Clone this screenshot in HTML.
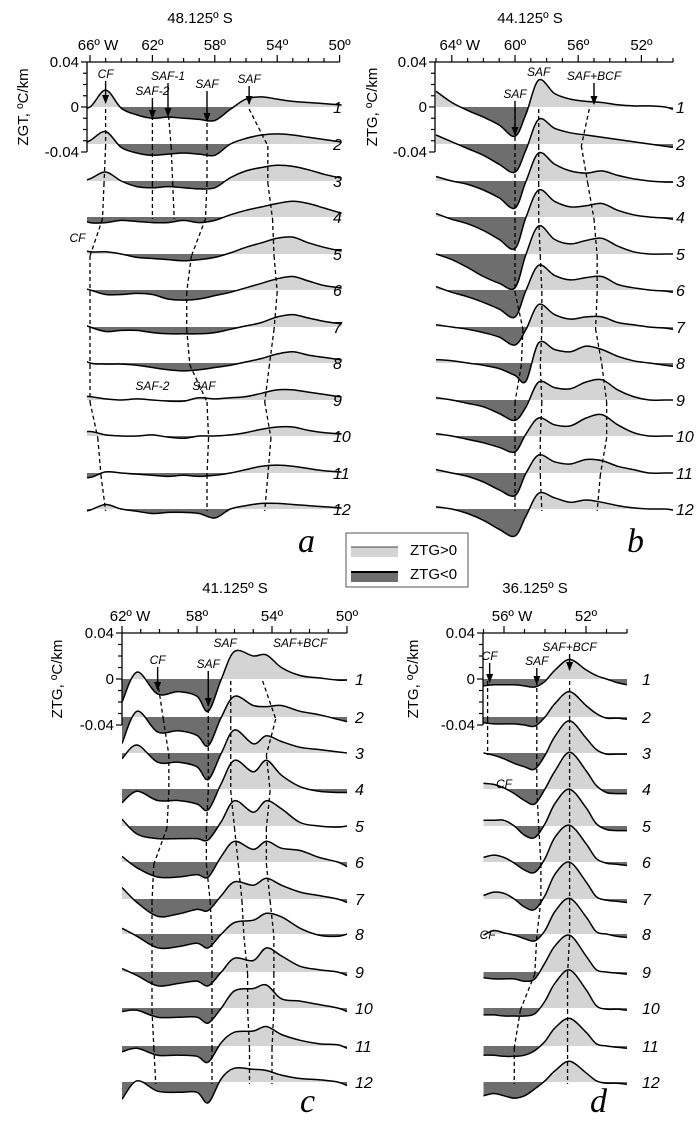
<!DOCTYPE html>
<html><head><meta charset="utf-8">
<style>
html,body{margin:0;padding:0;background:#fff;}
svg{display:block;font-family:"Liberation Sans",sans-serif;}
.it{font-style:italic;}
</style></head>
<body>
<svg id="fig" width="698" height="1129" viewBox="0 0 698 1129" xmlns="http://www.w3.org/2000/svg">
<defs>
<marker id="arr" markerWidth="9" markerHeight="7" refX="8" refY="3.5" orient="auto" markerUnits="userSpaceOnUse"><path d="M0,0 L9,3.5 L0,7 Z" fill="#000"/></marker>
</defs>
<g id="layer"></g>
<g>
<rect x="346" y="533" width="122" height="54" fill="#fff" stroke="#555" stroke-width="1"/>
<rect x="351" y="547" width="47" height="10" fill="#d4d4d4"/>
<line x1="351" y1="547" x2="398" y2="547" stroke="#444" stroke-width="1"/>
<text x="410" y="555" font-size="15">ZTG&gt;0</text>
<rect x="351" y="572" width="47" height="10" fill="#6e6e6e"/>
<line x1="351" y1="572" x2="398" y2="572" stroke="#000" stroke-width="2"/>
<text x="410" y="579" font-size="15">ZTG&lt;0</text>
</g>
</svg>
<script>
// ---------- Panel a data (48.125 S) ----------
const aLons = [67,66,65,64,63,62,61,60,59,58,57,56,55,54,53,52,51,50,49];
const aProfiles = [
[-0.2,0.0,1.5,-0.1,-0.7,-1.0,-0.9,-1.0,-1.1,-1.2,-0.2,0.7,0.9,0.7,0.5,0.4,0.3,0.2,0.1],
[-0.3,0.3,1.1,-0.3,-0.8,-1.0,-0.9,-0.8,-0.9,-1.0,0.0,0.5,0.8,0.9,0.8,0.6,0.4,0.2,0.0],
[-0.2,0.2,0.8,0.0,-0.5,-0.6,-0.5,-0.6,-0.7,-0.6,0.3,0.9,1.2,1.4,1.3,1.0,0.6,0.3,0.1],
[0.0,-0.5,-0.5,-0.3,-0.4,-0.5,-0.5,-0.3,-0.5,-0.3,0.2,0.6,0.9,1.2,1.4,1.2,0.8,0.4,0.2],
[0.6,0.2,0.2,0.0,-0.3,-0.4,-0.5,-0.6,-0.5,-0.3,0.1,0.6,1.0,1.4,1.5,1.0,0.6,0.3,0.1],
[0.3,0.0,-0.4,-0.4,-0.3,-0.4,-0.8,-0.9,-0.8,-0.5,-0.2,0.2,0.6,1.0,1.2,0.8,0.4,0.2,0.0],
[0.6,0.0,-0.4,-0.3,-0.3,-0.5,-0.6,-0.6,-0.6,-0.5,-0.2,0.1,0.4,0.9,1.1,0.8,0.5,0.3,0.1],
[0.7,0.0,-0.1,-0.1,-0.2,-0.4,-0.6,-0.7,-0.6,-0.4,-0.2,0.1,0.4,0.8,1.0,0.7,0.5,0.3,0.1],
[0.4,0.3,0.1,0.0,0.1,0.0,-0.1,-0.1,0.2,0.1,0.2,0.3,0.6,0.9,0.9,0.7,0.5,0.3,0.2],
[0.2,0.4,0.1,0.0,0.0,0.1,-0.1,-0.2,0.0,0.0,0.1,0.3,0.6,0.8,0.8,0.5,0.3,0.2,0.1],
[-0.3,-0.4,0.1,0.0,-0.1,-0.2,-0.3,-0.2,-0.3,-0.2,0.0,0.3,0.6,0.7,0.6,0.4,0.2,0.1,0.0],
[-0.4,-0.1,0.4,0.0,-0.2,-0.4,-0.3,-0.3,-0.4,-0.8,0.0,0.3,0.5,0.5,0.4,0.3,0.2,0.1,0.0]
];
const aTicks = ["66º W","62º","58º","54º","50º"];
const aTickLons = [66,62,58,54,50];
const aFronts = [[65,65,65.1,65.2,66,66,66,66,66,65.5,65.3,65],[62,62,62,62],[61,60.8,60.7,60.6],[58.5,58.5,58.5,58.6,59.5,59.8,59.8,59.6,58.5,58.4,58.5,58.5],[55.8,54.6,54.6,54.3,54.2,54.0,54.2,54.5,54.8,54.4,54.6,54.8]];
// ---------- Panel b data (44.125 S) ----------
const bLons = [65,64,63,62,61,60,59.3,58.5,57.5,56.5,55.5,54.5,53.5,52.5,51.5,50.5,50];
const bProfiles = [
[1.4,0.4,-0.3,-0.9,-1.6,-2.6,-0.6,2.4,1.2,0.7,0.5,0.4,0.2,0.1,0.1,0.0,-0.2],
[0.8,0.2,-0.4,-1.0,-1.8,-2.5,-0.5,2.2,1.4,1.0,0.8,0.6,0.4,0.2,0.0,-0.2,-0.3],
[0.4,0.0,-0.3,-0.8,-1.5,-2.4,0.0,2.5,1.5,0.9,0.7,0.9,0.5,0.2,0.0,-0.1,-0.1],
[0.3,-0.2,-0.6,-1.2,-2.0,-2.8,0.0,2.4,1.4,0.9,1.0,1.2,0.6,0.2,0.0,-0.1,-0.2],
[0.0,-0.5,-1.2,-2.0,-2.6,-3.0,0.0,2.5,1.3,0.9,1.2,1.4,0.7,0.2,0.0,0.0,0.0],
[0.3,-0.2,-0.6,-1.1,-1.7,-2.4,0.0,2.2,1.3,0.9,1.1,1.2,0.5,0.2,0.0,-0.1,-0.2],
[0.2,0.0,-0.2,-0.5,-0.9,-1.6,-0.2,2.0,1.1,0.7,0.9,0.9,0.4,0.2,0.0,-0.1,-0.2],
[0.3,0.2,0.0,-0.2,-0.5,-1.1,-1.6,1.8,1.2,1.0,1.5,1.2,0.6,0.2,0.0,-0.2,-0.3],
[0.2,0.0,-0.3,-0.6,-1.2,-1.8,-0.6,1.6,1.1,1.0,1.6,1.8,0.9,0.3,0.0,0.0,0.0],
[0.2,0.0,-0.3,-0.6,-1.0,-1.4,0.2,1.6,1.0,0.9,1.6,1.9,1.0,0.3,0.0,0.0,0.0],
[0.3,0.0,-0.3,-0.8,-1.5,-2.0,0.0,1.6,1.0,0.8,1.2,1.1,0.6,0.3,0.0,0.0,0.0],
[0.2,0.0,-0.4,-1.0,-1.8,-2.4,-0.6,1.4,1.0,0.6,0.8,0.6,0.3,0.1,0.0,0.0,-0.1]
];
const bTicks = ["64º W","60º","56º","52º"];
const bTickLons = [64,60,56,52];
const bFronts = [[60,60,60,60,60,60,59.5,59.6,60,60,60,60],[58.5,58.5,58.5,58.5,58.4,58.3,58.3,58.4,58.3,58.4,58.4,58.3],[55.3,55.8,55.4,55,54.8,54.8,54.9,54.5,54.2,54.2,54.6,54.8]];
// ---------- Panel c data (41.125 S) ----------
const cLons = [62,61.2,60.1,59,58,57.4,56.7,56,55,54.3,53.5,52.5,51.5,50.5,50];
const cProfiles = [
[-2.0,0.6,-1.3,-1.1,-1.5,-2.8,0.0,2.4,2.0,2.1,1.0,0.3,0.1,-0.1,-0.1],
[-2.3,0.5,-1.3,-1.2,-1.6,-2.5,0.0,1.8,1.0,0.9,1.0,0.5,0.2,-0.2,-0.4],
[-0.5,0.7,-0.8,-0.8,-1.2,-2.3,0.0,2.0,0.8,1.5,1.0,0.5,0.3,0.1,0.0],
[-1.2,-0.2,-1.0,-1.0,-1.3,-1.8,0.5,2.5,1.5,2.5,1.2,0.2,-0.2,-0.3,-0.3],
[0.6,-0.7,-1.1,-1.1,-1.1,-1.2,0.4,2.2,1.2,2.2,1.5,0.3,0.0,-0.1,0.0],
[0.5,-0.5,-1.3,-1.3,-1.1,-1.3,0.5,1.8,1.1,1.8,1.2,1.0,0.4,0.0,-0.4],
[1.0,-0.3,-1.5,-1.3,-0.9,-1.0,0.3,1.5,1.2,1.8,1.2,0.6,0.3,0.0,-0.3],
[0.5,-0.2,-1.2,-1.1,-0.8,-1.2,0.0,1.0,1.2,1.8,1.5,0.5,-0.1,-0.2,0.0],
[0.3,-0.3,-1.2,-1.0,-0.8,-1.2,0.0,1.2,1.0,2.1,1.4,0.5,0.2,0.0,-0.3],
[-0.3,-0.2,-0.8,-0.8,-0.8,-1.3,0.0,1.5,1.7,2.0,0.8,0.6,0.3,0.0,-0.3],
[-0.5,-0.2,-0.8,-0.8,-0.9,-1.4,0.3,1.2,1.3,1.7,1.0,0.5,0.2,0.1,-0.2],
[-1.5,0.1,-0.8,-0.9,-0.9,-1.8,0.3,1.2,1.1,1.0,0.6,0.3,0.2,0.0,-0.3]
];
const cTicks = ["62º W","58º","54º","50º"];
const cTickLons = [62,58,54,50];
const cFronts = [[60.1,59.8,59.5,59.5,59.6,60.3,60.4,60.4,60.4,60.4,60.3,60.2],[57.4,57.4,57.4,57.4,57.5,57.5,57.3,57.2,57.2,57.2,57.2,57.2],[56.2,56.2,56.2,56.2,56.0,55.8,55.6,55.5,55.3,55.3,55.2,55.2],[54.5,53.8,54.3,54.1,54.3,54.3,54.1,53.9,53.9,53.9,54.0,54.0]];
// ---------- Panel d data (36.125 S) ----------
const dLons = [57,56.5,56,55.5,55,54.5,54,53.5,52.8,52,51.5,51,50.5,50];
const dProfiles = [
[-0.6,-0.5,-0.5,-0.5,-0.6,-0.7,-0.2,0.8,1.7,0.8,0.3,0.0,-0.3,-0.5],
[-0.5,-0.6,-0.6,-0.6,-0.7,-0.8,0.0,1.2,2.2,1.0,0.3,-0.1,-0.1,-0.2],
[0.0,-0.2,-0.5,-0.9,-1.2,-1.4,-0.2,1.5,2.8,1.3,0.3,-0.1,-0.1,-0.1],
[0.5,0.4,0.1,-0.4,-1.0,-1.3,0.0,1.6,3.2,1.6,0.3,-0.3,-0.4,-0.4],
[0.5,0.5,0.5,0.0,-0.8,-1.0,0.2,2.0,3.2,1.6,0.2,-0.3,-0.4,-0.4],
[0.4,0.6,0.4,-0.1,-0.7,-0.9,0.3,2.2,3.2,1.6,0.3,-0.1,-0.2,-0.3],
[0.3,0.6,0.5,0.0,-0.7,-0.9,0.3,2.2,3.2,1.5,0.2,-0.1,-0.2,-0.3],
[-0.1,0.3,0.1,-0.1,-0.4,-0.6,0.3,2.0,3.1,1.5,0.2,0.0,-0.2,-0.3],
[-0.5,-0.6,-0.6,-0.6,-0.8,-0.6,0.8,2.3,3.2,1.4,0.2,0.0,-0.1,-0.2],
[-0.6,-0.6,-0.7,-0.7,-0.7,-0.5,0.6,2.2,3.3,1.6,0.2,-0.1,-0.1,-0.2],
[-0.8,-0.8,-0.9,-0.9,-0.8,-0.4,0.4,1.6,2.4,1.2,0.2,0.0,-0.1,-0.2],
[-1.2,-1.0,-1.2,-1.4,-1.2,-0.6,0.1,1.0,1.8,0.8,0.1,-0.1,-0.1,-0.2]
];
const dTicks = ["56º W","52º"];
const dTickLons = [56,52];
const dFronts = [[56.8,56.8,56.8],[54.4,54.4,54.4,54.4,54.3,54.2,54.2,54.4,54.5,55.2,55.5,55.5],[52.8,52.8,52.8,52.8,52.8,52.8,52.8,52.8,52.9,52.9,52.9,52.9]];
const rowLabels = ["1","2","3","4","5","6","7","8","9","10","11","12"];

const NS = "http://www.w3.org/2000/svg";
const layer = document.getElementById("layer");
function mk(tag, attrs, parent){const e=document.createElementNS(NS,tag);for(const k in attrs)e.setAttribute(k,attrs[k]);(parent||layer).appendChild(e);return e;}
function smooth(pts){let d="M"+pts[0][0].toFixed(1)+","+pts[0][1].toFixed(1);for(let i=0;i<pts.length-1;i++){const p0=pts[Math.max(0,i-1)],p1=pts[i],p2=pts[i+1],p3=pts[Math.min(pts.length-1,i+2)];const c1=[p1[0]+(p2[0]-p0[0])/6,p1[1]+(p2[1]-p0[1])/6],c2=[p2[0]-(p3[0]-p1[0])/6,p2[1]-(p3[1]-p1[1])/6];d+=" C"+c1[0].toFixed(1)+","+c1[1].toFixed(1)+" "+c2[0].toFixed(1)+","+c2[1].toFixed(1)+" "+p2[0].toFixed(1)+","+p2[1].toFixed(1);}return d;}

let clipId=0;
function panel(cfg, lons, profiles, ticks, tickLons, fronts){
  const g=mk("g",{});
  
  
  const xS=lon=>cfg.x0+(cfg.lon0-lon)*cfg.ppd;
  const yS=(v,base)=>base-v*cfg.ppu;
  const xl=cfg.axisX, xr=xS(cfg.lonEnd);
  const cid="clip"+(clipId++);
  const cp=mk("clipPath",{id:cid},g);mk("rect",{x:xl,y:0,width:xr-xl+2,height:1129},cp);
  const rows=mk("g",{"clip-path":"url(#"+cid+")"},g);
  profiles.forEach((vals,i)=>{
    const base=cfg.rows[i];
    const pts=lons.map((l,j)=>[xS(l),yS(vals[j],base)]);
    const curve=smooth(pts);
    const area=curve+" L"+pts[pts.length-1][0].toFixed(1)+","+base+" L"+pts[0][0].toFixed(1)+","+base+" Z";
    const rg=mk("g",{},rows);
    
    
    const up="cu"+(clipId++), dn="cd"+(clipId++);
    const c1=mk("clipPath",{id:up},rg);mk("rect",{x:0,y:0,width:698,height:base},c1);
    const c2=mk("clipPath",{id:dn},rg);mk("rect",{x:0,y:base,width:698,height:1129-base},c2);
    const pf=mk("path",{d:area,fill:"#d4d4d4","clip-path":"url(#"+up+")"},rg);
    
    
    const nf=mk("path",{d:area,fill:"#6e6e6e","clip-path":"url(#"+dn+")"},rg);
    
    
    const ln=mk("path",{d:curve,fill:"none",stroke:"#000","stroke-width":1.5},rg);
    
    
  });
  profiles.forEach((v,i)=>{
    const t=mk("text",{x:cfg.labelX,y:cfg.rows[i]+6,"font-size":16,class:"it"},g);
    t.textContent=rowLabels[i];
    
    
  });
  fronts.forEach(fr=>{
    for(let i=0;i<fr.length-1;i++){
      const l=mk("line",{x1:xS(fr[i]),y1:cfg.rows[i]+2,x2:xS(fr[i+1]),y2:cfg.rows[i+1]+2,stroke:"#000","stroke-width":1.3,"stroke-dasharray":"4,3"},g);
      
      
    }
  });
  const ta=mk("line",{x1:xl,y1:cfg.top,x2:xr,y2:cfg.top,stroke:"#000","stroke-width":1.3},g);
  
  
  for(let l=Math.floor(cfg.lonStart);l>=Math.ceil(cfg.lonEnd);l--){
    const x=xS(l);if(x<xl-0.5)continue;
    const major=tickLons.indexOf(l)>=0;
    mk("line",{x1:x,y1:cfg.top,x2:x,y2:cfg.top-(major?7:4),stroke:"#000","stroke-width":1.2},g);
  }
  ticks.forEach((t,i)=>{
    const tx=mk("text",{x:xS(tickLons[i])+(t.indexOf("W")>0?8:0),y:cfg.top-12,"font-size":15,"text-anchor":"middle"},g);
    tx.textContent=t;
    
    
  });
  const ya=mk("line",{x1:xl,y1:cfg.top,x2:xl,y2:cfg.rows[0]+cfg.ppu*4,stroke:"#000","stroke-width":1.3},g);
  
  
  for(let k=-4;k<=4;k++){mk("line",{x1:xl-(k%4===0?6:4),y1:cfg.rows[0]-k*cfg.ppu,x2:xl,y2:cfg.rows[0]-k*cfg.ppu,stroke:"#000","stroke-width":1.2},g);}
  [["0.04",4],["0",0],["-0.04",-4]].forEach(([s,k])=>{
    const t=mk("text",{x:xl-8,y:cfg.rows[0]-k*cfg.ppu+5,"font-size":15,"text-anchor":"end"},g);
    t.textContent=s;
    
    
  });
  const yt=mk("text",{x:0,y:0,"font-size":15,"text-anchor":"middle",transform:"translate("+(cfg.ytX)+","+(cfg.rows[0])+") rotate(-90)"},g);
  yt.textContent=cfg.yTitle;
  
  
  const tt=mk("text",{x:cfg.titleX,y:cfg.titleY,"font-size":15,"text-anchor":"middle"},g);
  tt.textContent=cfg.title;
  
  
  const pl=mk("text",{x:cfg.letterX,y:cfg.letterY,"font-size":34,"font-family":"Liberation Serif, serif",class:"it"},g);
  pl.textContent=cfg.letter;
  
  
  cfg.ann.forEach(([txt,lon,ty,vy])=>{
    const x=xS(lon);
    const t=mk("text",{x:x,y:ty,"font-size":12,"text-anchor":"middle",class:"it"},g);
    t.textContent=txt;
    
    
    if(vy){const a=mk("line",{x1:x,y1:ty+3,x2:x,y2:vy,stroke:"#000","stroke-width":1.4,"marker-end":"url(#arr)"},g);
      
      }
  });
}
const rowsTop=[107,144,181,217,254,290,327,363,400,436,473,509];
const rowsBot=[679,717,753,789,826,862,899,934,972,1008,1046,1082];
panel({name:"panel-a",x0:90,lon0:66,ppd:15.6,ppu:11.25,axisX:87,lonStart:66,lonEnd:50,top:62,rows:rowsTop,labelX:333,ytX:28,yTitle:"ZGT, ºC/km",title:"48.125º S",titleX:200,titleY:23,letter:"a",letterX:298,letterY:552,
  ann:[["CF",65,78,103],["SAF-2",62,95,118],["SAF-1",61,80,116],["SAF",58.5,88,121],["SAF",55.8,83,104],["CF",66.8,242,0],["SAF-2",62,390,0],["SAF",58.7,390,0]]},aLons,aProfiles,aTicks,aTickLons,aFronts);
panel({name:"panel-b",x0:515,lon0:60,ppd:15.8,ppu:11.25,axisX:435,lonStart:65,lonEnd:50,top:62,rows:rowsTop,labelX:676,ytX:377,yTitle:"ZTG, ºC/km",title:"44.125º S",titleX:530,titleY:23,letter:"b",letterX:627,letterY:552,
  ann:[["SAF",60,98,135],["SAF",58.5,76,0],["SAF+BCF",55,80,104]]},bLons,bProfiles,bTicks,bTickLons,bFronts);
panel({name:"panel-c",x0:122,lon0:62,ppd:18.75,ppu:11.5,axisX:122,lonStart:62,lonEnd:50,top:633,rows:rowsBot,labelX:355,ytX:62,yTitle:"ZTG, ºC/km",title:"41.125º S",titleX:235,titleY:593,letter:"c",letterX:300,letterY:1112,
  ann:[["CF",60.1,664,690],["SAF",57.4,668,706],["SAF",56.5,647,0],["SAF+BCF",52.5,647,0]]},cLons,cProfiles,cTicks,cTickLons,cFronts);
panel({name:"panel-d",x0:504,lon0:56,ppd:20.5,ppu:11.5,axisX:483,lonStart:57,lonEnd:50,top:633,rows:rowsBot,labelX:642,ytX:418,yTitle:"ZTG, ºC/km",title:"36.125º S",titleX:535,titleY:593,letter:"d",letterX:590,letterY:1112,
  ann:[["CF",56.7,660,682],["SAF",54.4,665,684],["SAF+BCF",52.8,651,670],["CF",56,788,0],["CF",56.8,939,0]]},dLons,dProfiles,dTicks,dTickLons,dFronts);
</script>
</body></html>
